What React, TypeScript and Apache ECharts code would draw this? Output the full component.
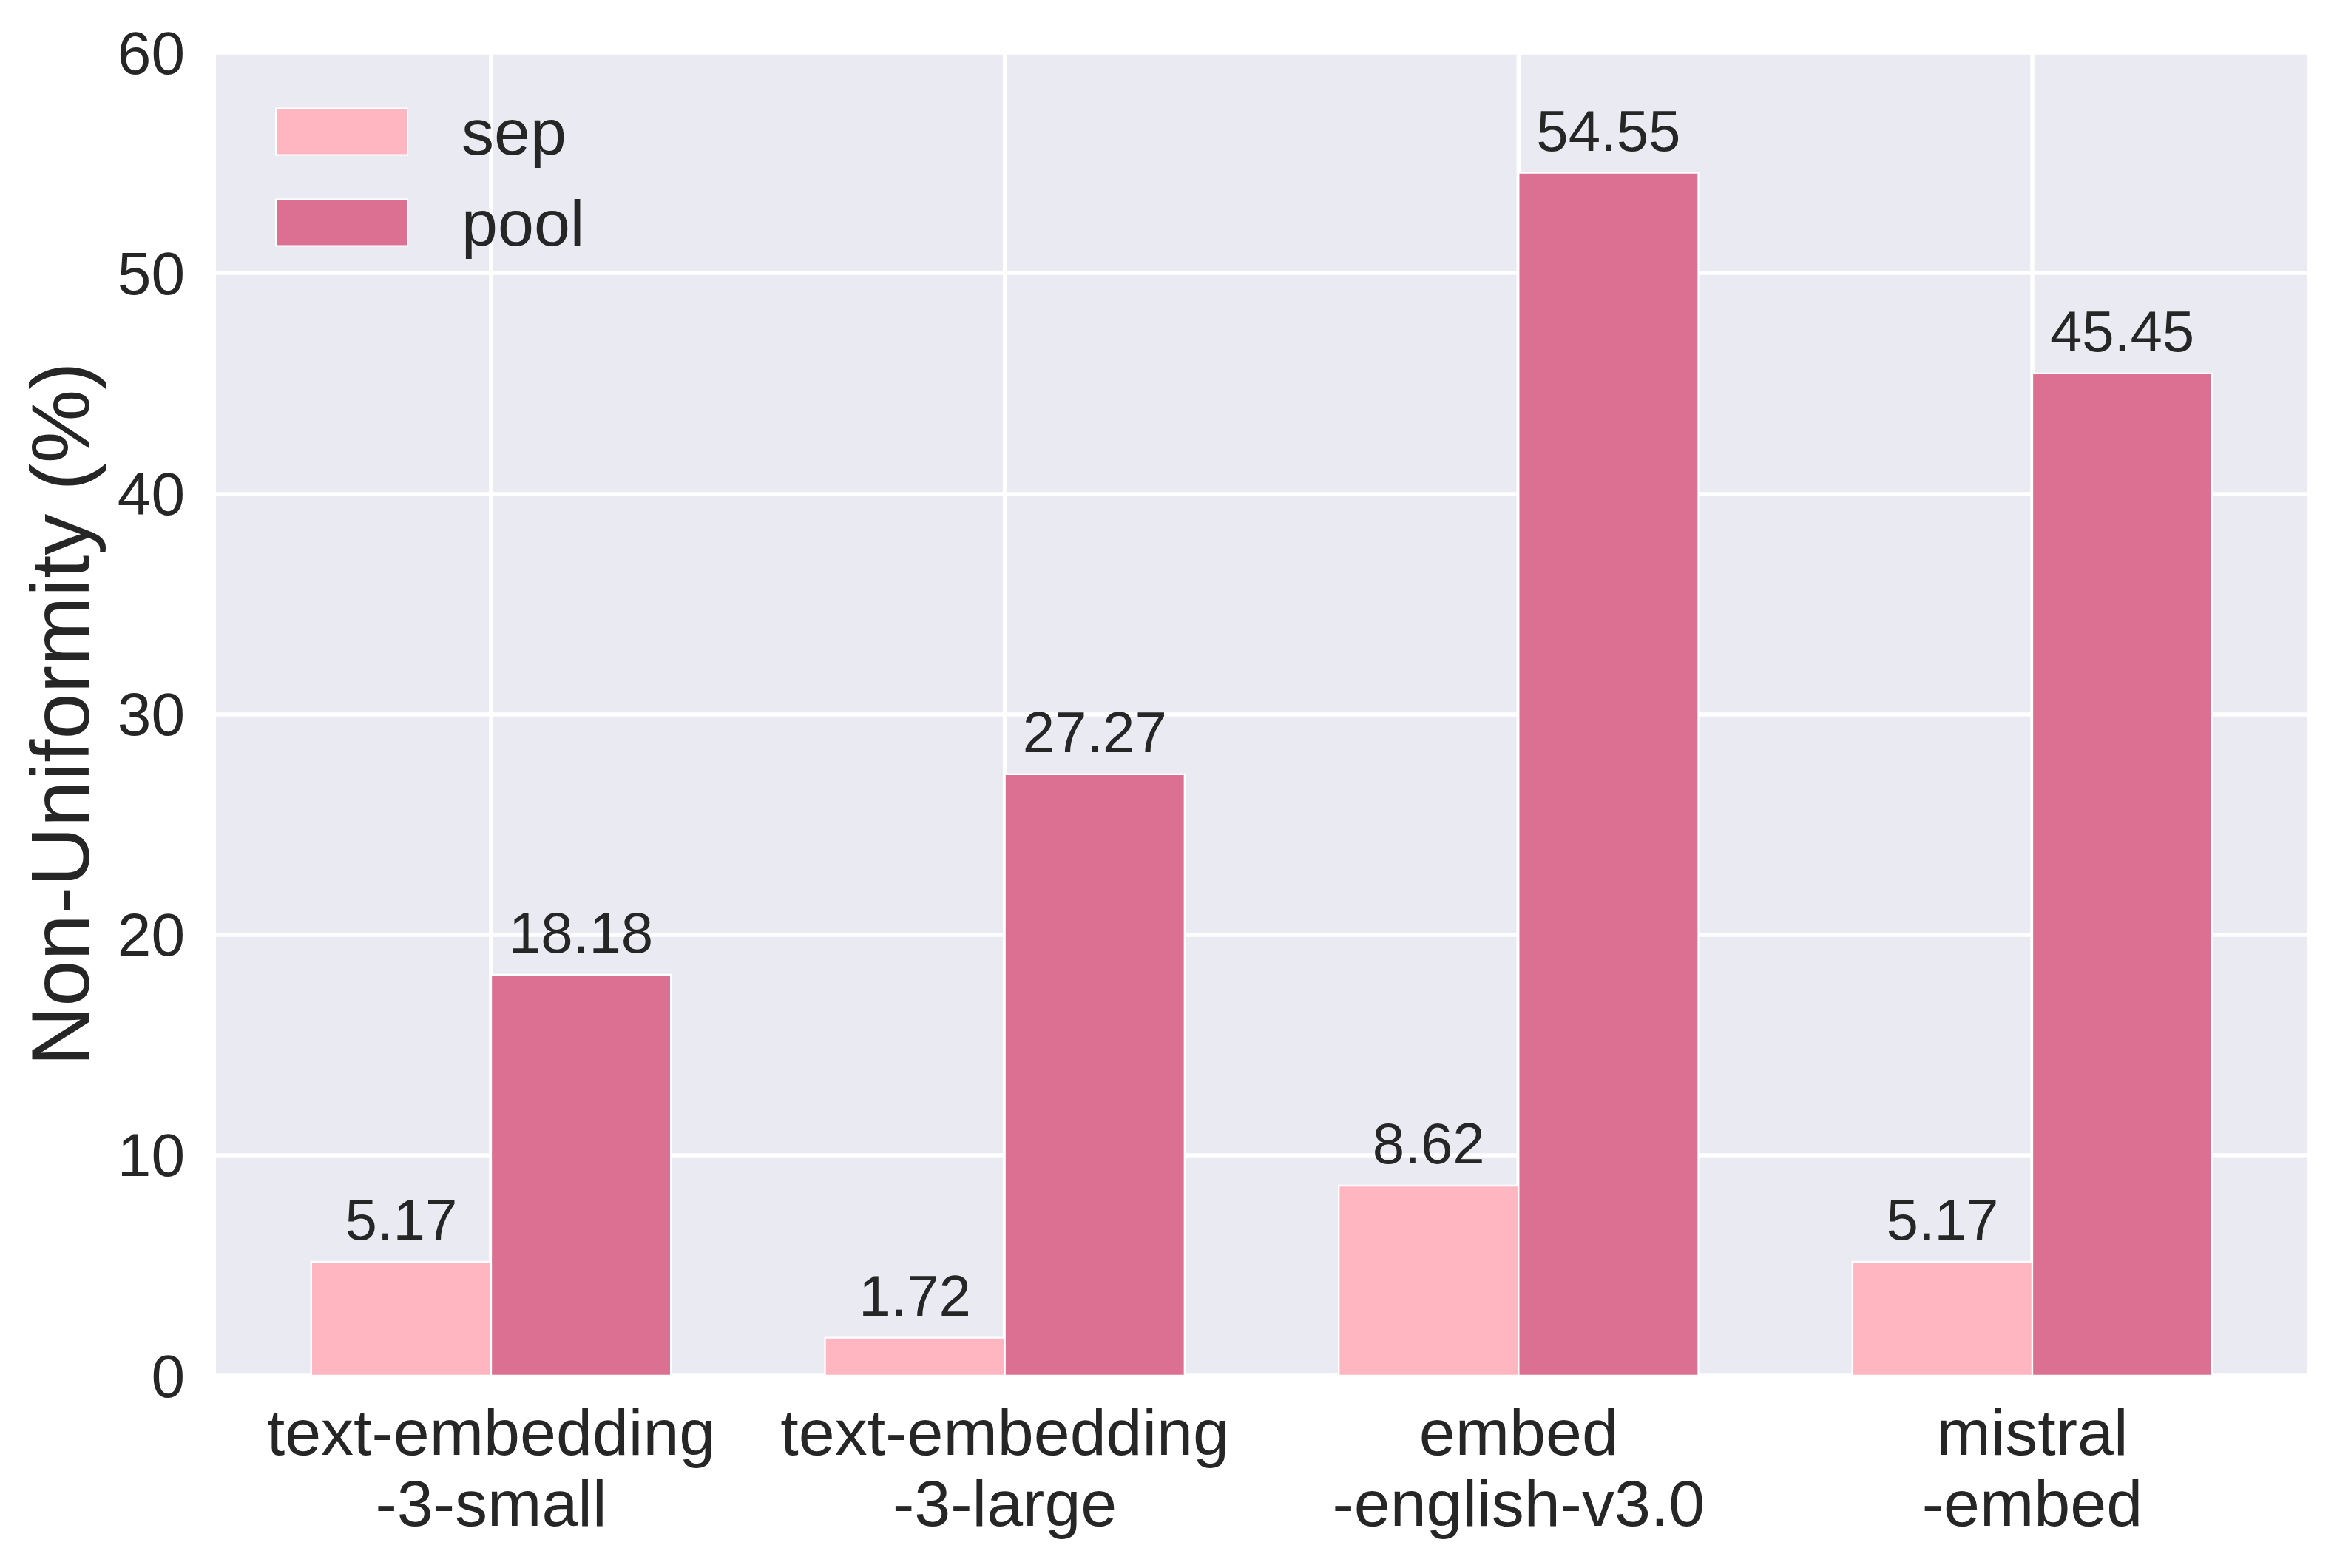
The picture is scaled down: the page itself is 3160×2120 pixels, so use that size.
import React, { useEffect, useRef } from "react";
import * as echarts from "echarts";

const CATEGORIES = [
  "text-embedding\n-3-small",
  "text-embedding\n-3-large",
  "embed\n-english-v3.0",
  "mistral\n-embed",
];
const SEP_VALUES = [5.17, 1.72, 8.62, 5.17];
const POOL_VALUES = [18.18, 27.27, 54.55, 45.45];
const SERIES_NAMES = ["sep", "pool"];
const Y_TICKS_MIN = 0;
const Y_TICKS_MAX = 60;
const Y_TICKS_STEP = 10;
const Y_AXIS_TITLE = "Non-Uniformity (%)";

const FONT = '"Liberation Sans", Arial, Helvetica, sans-serif';
const TEXT_COLOR = "#262626";
const SEP_COLOR = "#FFB6C1";
const POOL_COLOR = "#DB7093";
const BG_COLOR = "#EAEAF2";
const BAR_W = 0.35;
const X_MIN = -0.5355;
const X_MAX = 3.5355;

function barSeries(name: string, values: number[], color: string, offset: number) {
  return {
    name,
    type: "custom",
    z: 3,
    clip: false,
    itemStyle: { color },
    data: values.map((v, i) => [i, v]),
    renderItem: (params: any, api: any) => {
      const x = api.value(0);
      const v = api.value(1);
      const p0 = api.coord([x + offset, 0]);
      const p1 = api.coord([x + offset + BAR_W, v]);
      return {
        type: "group",
        children: [
          {
            type: "rect",
            shape: {
              x: p0[0],
              y: p1[1],
              width: p1[0] - p0[0],
              height: p0[1] - p1[1],
            },
            style: { fill: color, stroke: "#ffffff", lineWidth: 2.3 },
          },
          {
            type: "text",
            x: (p0[0] + p1[0]) / 2,
            y: p1[1] - 57,
            style: {
              text: v.toFixed(2),
              fill: TEXT_COLOR,
              font: `78px ${FONT}`,
              textAlign: "center",
              textVerticalAlign: "middle",
            },
          },
        ],
      };
    },
  };
}

export default function App() {
  const ref = useRef<HTMLDivElement>(null);

  useEffect(() => {
    document.body.style.margin = "0";
    if (!ref.current) return;
    const chart = echarts.init(ref.current, undefined, { renderer: "svg" });
    const option: any = {
      animation: false,
      backgroundColor: "#ffffff",
      textStyle: { fontFamily: FONT, color: TEXT_COLOR },
      grid: {
        left: 292,
        right: 40,
        top: 71,
        bottom: 260,
        show: true,
        backgroundColor: BG_COLOR,
        borderWidth: 0,
      },
      legend: {
        left: 372,
        top: 134,
        padding: 0,
        orient: "vertical",
        itemWidth: 178,
        itemHeight: 63,
        itemGap: 35,
        icon: "rect",
        selectedMode: false,
        textStyle: {
          fontFamily: FONT,
          fontSize: 88,
          lineHeight: 63,
          color: TEXT_COLOR,
          padding: [0, 0, 0, 68],
        },
        data: [
          { name: SERIES_NAMES[0], itemStyle: { color: SEP_COLOR, borderColor: "#ffffff", borderWidth: 2 } },
          { name: SERIES_NAMES[1], itemStyle: { color: POOL_COLOR, borderColor: "#ffffff", borderWidth: 2 } },
        ],
      },
      xAxis: {
        type: "value",
        min: X_MIN,
        max: X_MAX,
        axisLine: { show: false },
        axisTick: { show: false },
        splitLine: { show: false },
        axisLabel: {
          customValues: CATEGORIES.map((_, i) => i),
          formatter: (v: number) => CATEGORIES[Math.round(v)] ?? "",
          fontFamily: FONT,
          fontSize: 88,
          lineHeight: 96,
          color: TEXT_COLOR,
          margin: 28,
        },
      },
      yAxis: {
        type: "value",
        min: Y_TICKS_MIN,
        max: Y_TICKS_MAX,
        interval: Y_TICKS_STEP,
        name: Y_AXIS_TITLE,
        nameLocation: "middle",
        nameGap: 211,
        nameTextStyle: {
          fontFamily: FONT,
          fontSize: 112,
          color: TEXT_COLOR,
          verticalAlign: "middle",
        },
        axisLine: { show: false },
        axisTick: { show: false },
        axisLabel: {
          fontFamily: FONT,
          fontSize: 82,
          color: TEXT_COLOR,
          margin: 42,
        },
        splitLine: { show: true, lineStyle: { color: "#ffffff", width: 5.5 } },
      },
      series: [
        {
          name: "vgrid",
          type: "custom",
          z: 1,
          silent: true,
          data: CATEGORIES.map((_, i) => [i]),
          renderItem: (params: any, api: any) => {
            const x = api.value(0);
            const a = api.coord([x, Y_TICKS_MAX]);
            const b = api.coord([x, Y_TICKS_MIN]);
            return {
              type: "line",
              shape: { x1: a[0], y1: a[1], x2: b[0], y2: b[1] },
              style: { stroke: "#ffffff", lineWidth: 5.5 },
            };
          },
        },
        barSeries(SERIES_NAMES[0], SEP_VALUES, SEP_COLOR, -BAR_W),
        barSeries(SERIES_NAMES[1], POOL_VALUES, POOL_COLOR, 0),
      ],
    };
    chart.setOption(option);
    return () => chart.dispose();
  }, []);

  return <div ref={ref} style={{ width: 3160, height: 2120 }} />;
}
